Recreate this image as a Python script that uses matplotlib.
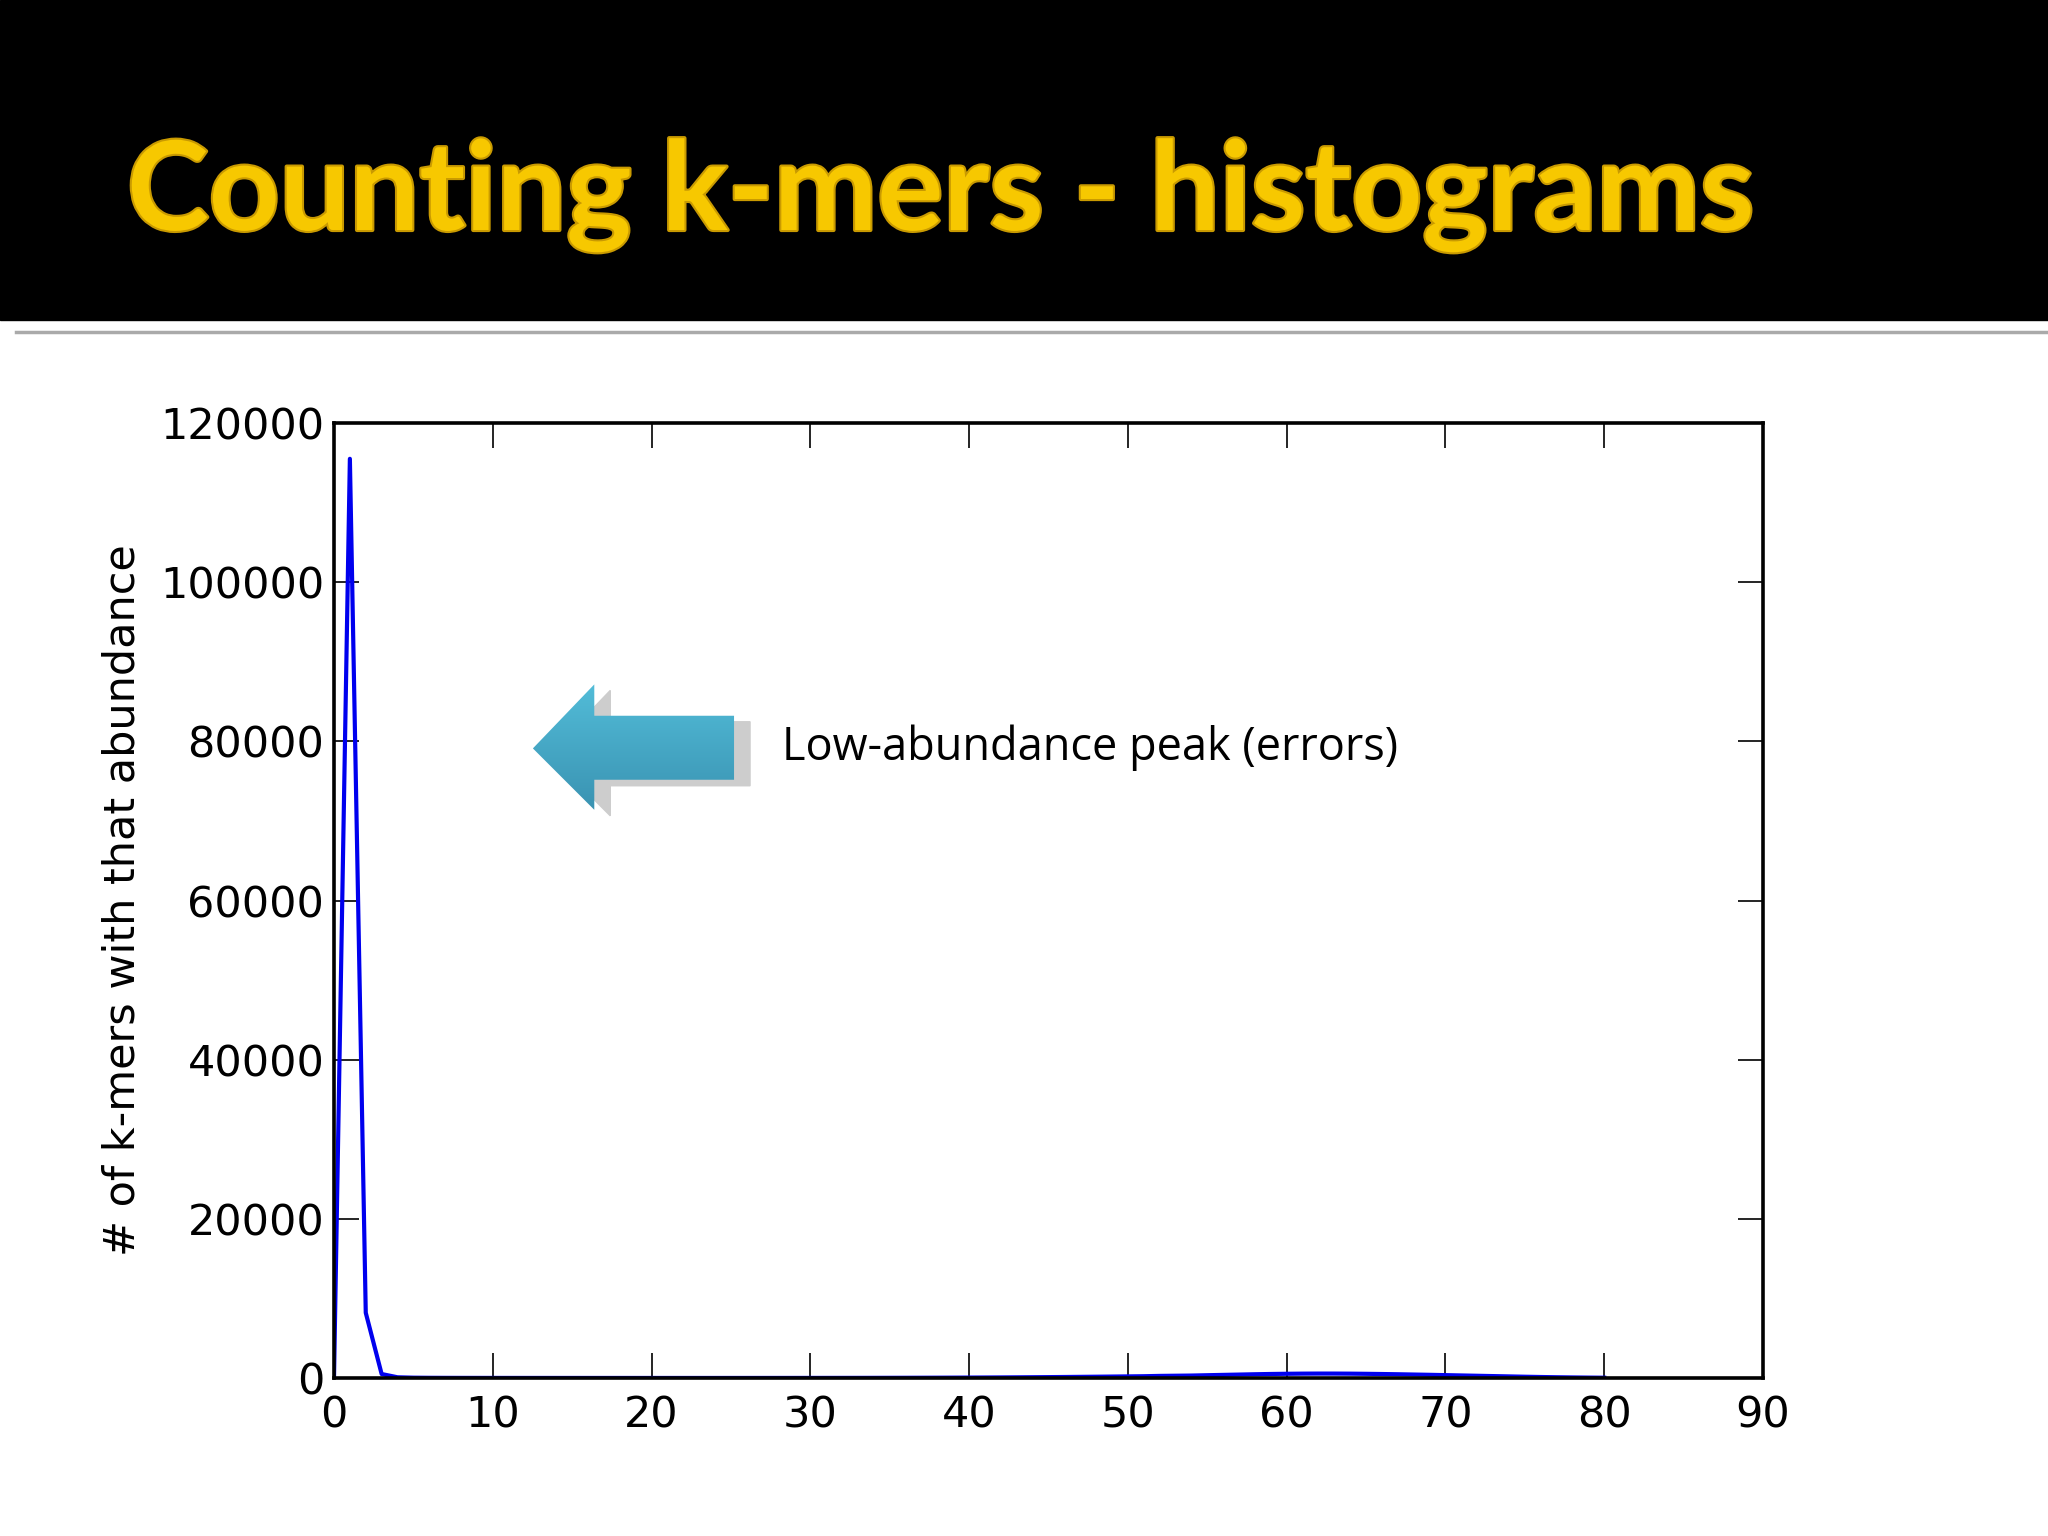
import matplotlib.pyplot as plt
import matplotlib.patheffects as pe
import numpy as np
from matplotlib.patches import Polygon, Rectangle

# k-mer abundance histogram
abundance = list(range(0, 81))
kmer_counts = [
    0, 115500, 8200, 500, 90, 40, 25, 18, 14, 12,
    10, 9, 8, 8, 7, 7, 6, 6, 6, 5,
    5, 5, 5, 5, 5, 6, 6, 7, 8, 9,
    10, 12, 14, 16, 19, 23, 27, 32, 38, 45,
    53, 62, 72, 84, 97, 111, 127, 144, 162, 181,
    201, 222, 263, 285, 307, 350, 390, 430, 470, 505,
    530, 548, 556, 555, 545, 525, 500, 470, 435, 400,
    360, 320, 280, 240, 200, 160, 125, 95, 70, 50,
    35,
]
x_ticks = [0, 10, 20, 30, 40, 50, 60, 70, 80, 90]
y_ticks = [0, 20000, 40000, 60000, 80000, 100000, 120000]

W, H = 2048, 1536
fig = plt.figure(figsize=(W / 100, H / 100), dpi=100)
fig.patch.set_facecolor("white")

ax = fig.add_axes([334 / W, 1 - 1378 / H, (1763 - 334) / W, (1378 - 423) / H])
ax.plot(abundance, kmer_counts, color="#0000ee", linewidth=3.0)
ax.set_xlim(0, 90)
ax.set_ylim(0, 120000)
ax.set_xticks(x_ticks)
ax.set_yticks(y_ticks)
ax.tick_params(direction="in", length=18, width=1.2, labelsize=31, pad=12,
               top=True, right=True)
ax.tick_params(axis="y", pad=7)
for s in ax.spines.values():
    s.set_linewidth(2.6)
ax.set_ylabel("# of k-mers with that abundance", fontsize=31, labelpad=12)

# overlay in pixel coordinates for the slide decorations
ov = fig.add_axes([0, 0, 1, 1], facecolor="none")
ov.set_xlim(0, W)
ov.set_ylim(H, 0)
ov.axis("off")

ov.add_patch(Rectangle((0, 0), W, 320, color="black", zorder=1))
ov.plot([16, W], [332, 332], color="#aaaaaa", linewidth=2.5, zorder=1)
ov.text(127, 230, "Counting k-mers - histograms", fontsize=89, fontweight="bold",
        family="Lato", color="#f7c800", va="baseline", ha="left", zorder=3,
        path_effects=[pe.withStroke(linewidth=3, foreground="#c99a00")])

# block arrow with shadow
k = W / 1568
arrow_pts = [(408, 573), (455, 524), (455, 548), (562, 548),
             (562, 597), (455, 597), (455, 620)]
arrow_px = [(px * k, py * k) for px, py in arrow_pts]
shadow_px = [(px + 16, py + 6) for px, py in arrow_px]
ov.add_patch(Polygon(shadow_px, closed=True, color="#cdcdcd", zorder=2))
arrow = Polygon(arrow_px, closed=True, facecolor="none", edgecolor="none", zorder=3)
ov.add_patch(arrow)
ys = [py for _, py in arrow_px]
xs = [px for px, _ in arrow_px]
grad = np.linspace(0, 1, 100).reshape(-1, 1)
img = ov.imshow(grad, cmap=plt.matplotlib.colors.LinearSegmentedColormap.from_list(
    "arr", ["#52bcd8", "#3a93b2"]), aspect="auto",
    extent=(min(xs), max(xs), max(ys), min(ys)), zorder=3)
img.set_clip_path(arrow)
ov.set_xlim(0, W)
ov.set_ylim(H, 0)

ov.text(782, 748, "Low-abundance peak (errors)", fontsize=32.5, family="Open Sans",
        color="black", va="center", ha="left", zorder=4)

fig.savefig("out.png", dpi=100)
